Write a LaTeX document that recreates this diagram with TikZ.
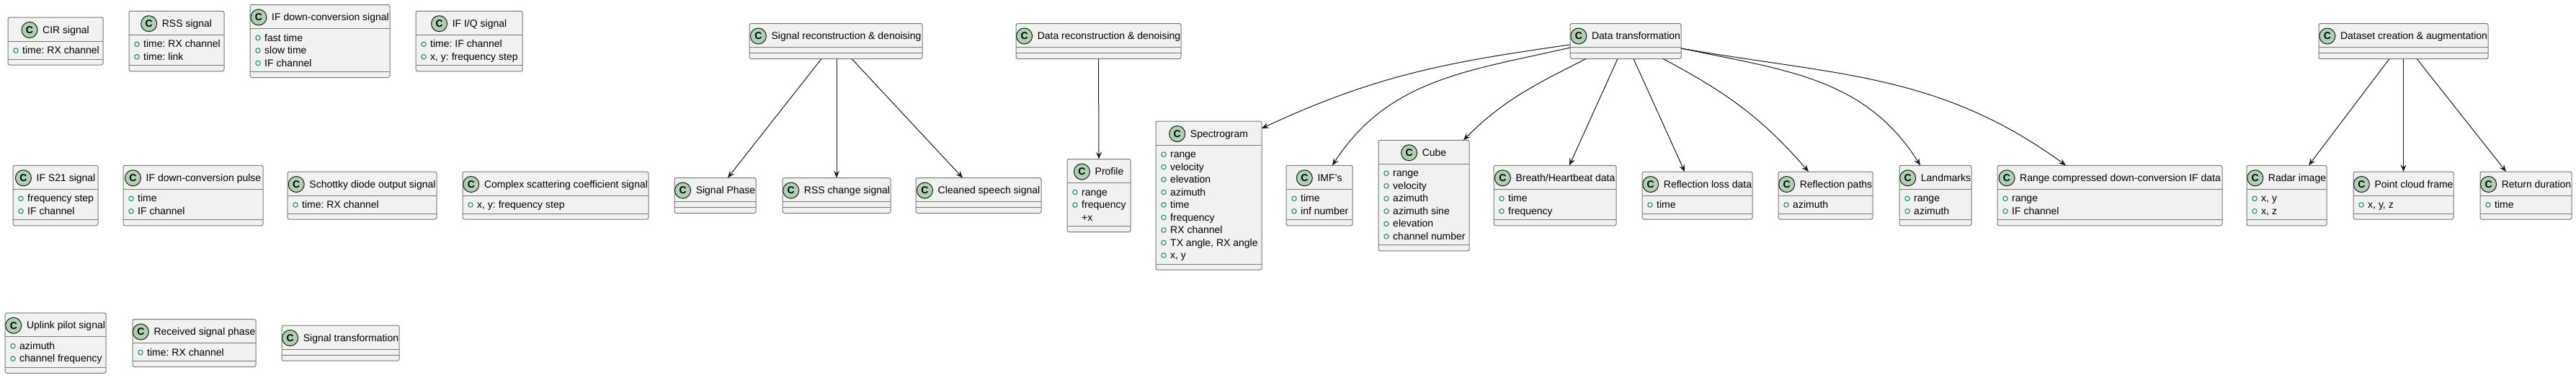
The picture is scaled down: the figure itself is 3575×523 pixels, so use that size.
\documentclass[tikz,border=0pt]{standalone}
\usepackage{fontspec}
\setmainfont{Liberation Sans}
\usepackage{xcolor}
\usepackage{tikz}
\usetikzlibrary{arrows.meta}
\frenchspacing
\definecolor{clsfill}{RGB}{241,241,241}
\definecolor{clsline}{RGB}{120,120,120}
\definecolor{spotfill}{RGB}{173,209,178}
\definecolor{visgreen}{RGB}{3,128,72}
\definecolor{linkcol}{RGB}{24,24,24}
\tikzset{
  clsbox/.style={rectangle, rounded corners=2.5pt, draw=clsline, fill=clsfill,
                 line width=1pt, inner sep=0pt, outer sep=0pt},
  clsrule/.style={draw=clsline, line width=1pt},
  clstitle/.style={inner sep=0pt, text height=11pt, text depth=2pt},
  spot/.style={circle, draw=linkcol, fill=spotfill, line width=1pt, minimum size=22pt,
               inner sep=0pt, font=\fontsize{14}{16}\selectfont\bfseries},
  vis/.style={circle, draw=visgreen, line width=0.9pt, minimum size=6.5pt, inner sep=0pt},
  attr/.style={anchor=west, inner sep=0pt, text height=11pt, text depth=2pt},
  assoc/.style={-{Stealth[length=10pt, width=8pt, inset=4pt]}, line width=1pt, draw=linkcol},
}
% name, left x, middle y, width, number of rows, title, rows
\newcommand{\umlclass}[7]{%
  \ifnum#5=0 \def\clsh{49}\else\pgfmathsetmacro{\clsh}{48.5+17.5*#5}\fi
  \node[clsbox, minimum width=#4pt, minimum height=\clsh pt, anchor=west] (#1) at (#2,#3) {};
  \draw[clsrule] ([yshift=-33pt]#1.north west) -- ([yshift=-33pt]#1.north east);
  \draw[clsrule] ([yshift=8pt]#1.south west) -- ([yshift=8pt]#1.south east);
  \node[clstitle] (#1-t) at ([xshift=14.5pt, yshift=-17.5pt]#1.north) {#6};
  \node[spot] (#1-c) at ([xshift=-18pt]#1-t.west) {C};
  \ifnum#5>0
    \foreach \fld [count=\i] in {#7} {
      \node[vis] (#1-v\i) at ([xshift=11pt, yshift={-46pt-17.5pt*(\i-1)}]#1.north west) {};
      \node[attr] (#1-a\i) at ([xshift=20pt, yshift={-46pt-17.5pt*(\i-1)}]#1.north west) {\fld};
    }
  \fi
}

\begin{document}
\begin{tikzpicture}[x=1pt, y=-1pt, font=\fontsize{14}{16}\selectfont]
  \path[use as bounding box, fill=white] (0,0) rectangle (3575,523);

  % top row
  \umlclass{cir}{11}{57}{132}{1}{CIR signal}{time: RX channel}
  \umlclass{rss}{179}{57}{132}{2}{RSS signal}{time: RX channel,time: link}
  \umlclass{ifdown}{347}{57}{194}{3}{IF down-conversion signal}{fast time,slow time,IF channel}
  \umlclass{ifiq}{577}{57}{148}{2}{IF I/Q signal}{time: IF channel,{x, y: frequency step}}
  \umlclass{sigrec}{1040}{57}{240}{0}{Signal reconstruction \& denoising}{}
  \umlclass{datarec}{1410}{57}{229}{0}{Data reconstruction \& denoising}{}
  \umlclass{dt}{2179}{57}{154}{0}{Data transformation}{}
  \umlclass{dataset}{3218}{57}{235}{0}{Dataset creation \& augmentation}{}

  % middle row
  \umlclass{s21}{18}{271}{118}{2}{IF S21 signal}{frequency step,IF channel}
  \umlclass{ifpulse}{171}{271}{194}{2}{IF down-conversion pulse}{time,IF channel}
  \umlclass{schottky}{399}{271}{207}{1}{Schottky diode output signal}{time: RX channel}
  \umlclass{cplx}{642}{271}{258}{1}{Complex scattering coefficient signal}{{x, y: frequency step}}
  \umlclass{phase}{936}{271}{113}{0}{Signal Phase}{}
  \umlclass{rsschg}{1086}{271}{150}{0}{RSS change signal}{}
  \umlclass{speech}{1271}{271}{174}{0}{Cleaned speech signal}{}
  \umlclass{profile}{1481}{271}{88}{3}{Profile}{range,frequency}
  \node[attr] (profile-a3) at ([xshift=20pt, yshift=-81pt]profile.north west) {+x};
  \umlclass{spectro}{1604}{271}{147}{9}{Spectrogram}{range,velocity,elevation,azimuth,time,frequency,RX channel,{TX angle, RX angle},{x, y}}
  \umlclass{imf}{1785}{271}{92}{2}{IMF's}{time,inf number}
  \umlclass{cube}{1913}{271}{126}{6}{Cube}{range,velocity,azimuth,azimuth sine,elevation,channel number}
  \umlclass{breath}{2073}{271}{170}{2}{Breath/Heartbeat data}{time,frequency}
  \umlclass{refloss}{2279}{271}{153}{1}{Reflection loss data}{time}
  \umlclass{refpath}{2468}{271}{131}{1}{Reflection paths}{azimuth}
  \umlclass{landmk}{2636}{271}{100}{2}{Landmarks}{range,azimuth}
  \umlclass{rangecomp}{2772}{271}{312}{2}{Range compressed down-conversion IF data}{range,IF channel}
  \umlclass{radar}{3118}{271}{111}{2}{Radar image}{{x, y},{x, z}}
  \umlclass{ptcloud}{3266}{271}{139}{1}{Point cloud frame}{{x, y, z}}
  \umlclass{retdur}{3442}{271}{127}{1}{Return duration}{time}

  % bottom row
  \umlclass{uplink}{7}{475.5}{140}{2}{Uplink pilot signal}{azimuth,channel frequency}
  \umlclass{rxphase}{184}{475.5}{171}{1}{Received signal phase}{time: RX channel}
  \umlclass{sigtr}{391}{475.5}{163}{0}{Signal transformation}{}

  % links
  \draw[assoc] ([xshift=-20pt]sigrec.south) -- ([xshift=17.5pt]phase.north);
  \draw[assoc] ([xshift=1pt]sigrec.south) -- (rsschg.north);
  \draw[assoc] ([xshift=22pt]sigrec.south) -- ([xshift=-22pt]speech.north);
  \draw[assoc] (datarec.south) -- (profile.north);
  \draw[assoc] ([yshift=-5pt]dt.west) to[out=188, in=25] ([yshift=-10pt]spectro.north east);
  \draw[assoc] ([yshift=-9pt]dt.west) to[out=193, in=57] ([xshift=18pt]imf.north);
  \draw[assoc] ([xshift=-55pt]dt.south) to[out=207, in=45] ([xshift=55pt]cube.north);
  \draw[assoc] ([xshift=-11pt]dt.south) -- ([xshift=20pt]breath.north);
  \draw[assoc] ([xshift=11pt]dt.south) -- ([xshift=-17.5pt]refloss.north);
  \draw[assoc] ([xshift=52pt]dt.south) to[out=-28, in=131] ([xshift=-23.5pt]refpath.north);
  \draw[assoc] ([yshift=-10pt]dt.east) to[out=-12, in=122] ([xshift=-21pt]landmk.north);
  \draw[assoc] ([yshift=-10pt]dt.east) to[out=-10, in=144] ([xshift=-61pt]rangecomp.north);
  \draw[assoc] ([xshift=-19.5pt]dataset.south) -- ([xshift=30.5pt]radar.north);
  \draw[assoc] (dataset.south) -- (ptcloud.north);
  \draw[assoc] ([xshift=18.5pt]dataset.south) -- ([xshift=-27.5pt]retdur.north);
\end{tikzpicture}
\end{document}
